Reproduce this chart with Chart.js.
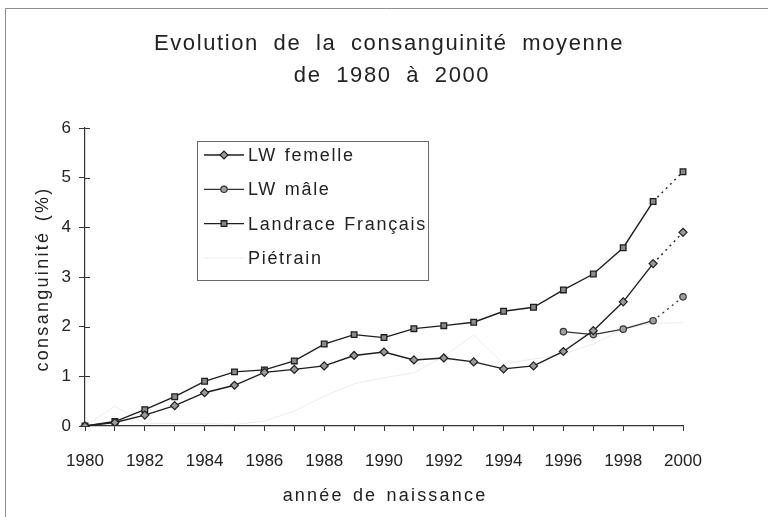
<!DOCTYPE html>
<html>
<head>
<meta charset="utf-8">
<script src="https://cdn.jsdelivr.net/npm/chart.js@4/dist/chart.umd.min.js"></script>
<style>
  html, body { margin: 0; padding: 0; background: #fff; }
  #wrap { width: 768px; height: 517px; position: relative; }
</style>
</head>
<body>
<div id="wrap"><canvas id="c" width="768" height="517"></canvas></div>
<script>
// Birth years
const years = ['1980','1981','1982','1983','1984','1985','1986','1987','1988','1989','1990',
               '1991','1992','1993','1994','1995','1996','1997','1998','1999','2000'];

// Mean inbreeding (%) per breed
const lwFemelle = [0, 0.07, 0.22, 0.41, 0.67, 0.82, 1.08, 1.14, 1.21, 1.42, 1.49,
                   1.33, 1.37, 1.29, 1.15, 1.21, 1.50, 1.92, 2.50, 3.27, 3.90];
const lwMale = [null, null, null, null, null, null, null, null, null, null, null,
                null, null, null, null, null, 1.90, 1.84, 1.95, 2.12, 2.60];
const landrace = [0, 0.09, 0.33, 0.59, 0.90, 1.09, 1.13, 1.31, 1.65, 1.84, 1.78,
                  1.96, 2.02, 2.09, 2.31, 2.39, 2.74, 3.06, 3.59, 4.52, 5.12];
const pietrain = [0, 0.40, 0.05, 0.05, 0.05, 0.03, 0.10, 0.30, 0.60, 0.85, 0.97,
                  1.07, 1.40, 1.83, 1.25, 1.35, 1.45, 1.65, 1.95, 2.07, 2.08];

const yTicks = [0, 1, 2, 3, 4, 5, 6];

const titleLines = ['Evolution de la consanguinité moyenne', 'de 1980 à 2000'];
const xTitle = 'année de naissance';
const yTitle = 'consanguinité (%)';

const FONT = 'Liberation Sans, Arial, sans-serif';
const INK = '#1e1e1e';

// last interval (1999 -> 2000) is drawn dotted
const dottedLast = {
  borderDash: ctx => ctx.p1DataIndex === years.length - 1 ? [2, 4] : undefined
};

const datasets = [
  { label: 'LW femelle', data: lwFemelle, borderColor: INK, borderWidth: 1.4,
    pointStyle: 'rectRot', pointRadius: 4, pointBackgroundColor: '#9a9a9a',
    pointBorderColor: INK, pointBorderWidth: 1.2, segment: dottedLast, spanGaps: false },
  { label: 'LW mâle', data: lwMale, borderColor: '#333', borderWidth: 1.3,
    pointStyle: 'circle', pointRadius: 3.2, pointBackgroundColor: '#a0a0a0',
    pointBorderColor: '#333', pointBorderWidth: 1.2, segment: dottedLast, spanGaps: false },
  { label: 'Landrace Français', data: landrace, borderColor: INK, borderWidth: 1.4,
    pointStyle: 'rect', pointRadius: 4, pointBackgroundColor: '#8a8a8a',
    pointBorderColor: INK, pointBorderWidth: 1.3, segment: dottedLast },
  { label: 'Piétrain', data: pietrain, borderColor: '#ebebeb', borderWidth: 1,
    pointRadius: 0, pointStyle: 'circle', pointBackgroundColor: '#ebebeb',
    pointBorderColor: '#ebebeb' }
];

function spacedText(c, text, x, y, font, letter, word) {
  c.font = font;
  c.letterSpacing = letter + 'px';
  c.wordSpacing = word + 'px';
  c.fillText(text, x, y);
  c.letterSpacing = '0px';
  c.wordSpacing = '0px';
}

// outer frame of the figure
const framePlugin = {
  id: 'frame',
  beforeDraw(chart) {
    const c = chart.ctx;
    c.save();
    c.fillStyle = '#fff';
    c.fillRect(0, 0, chart.width, chart.height);
    c.strokeStyle = '#8c8c8c';
    c.lineWidth = 1;
    c.beginPath();
    c.moveTo(5.5, chart.height);
    c.lineTo(5.5, 8.5);
    c.lineTo(chart.width, 8.5);
    c.stroke();
    c.restore();
  }
};

// title and axis titles, letter-spaced
const textsPlugin = {
  id: 'texts',
  afterDraw(chart) {
    const c = chart.ctx;
    const a = chart.chartArea;
    c.save();
    c.fillStyle = '#222';
    c.textAlign = 'center';
    c.textBaseline = 'middle';
    spacedText(c, titleLines[0], 389, 44, '22px ' + FONT, 1.6, 7);
    spacedText(c, titleLines[1], 392, 76, '22px ' + FONT, 1.6, 7);
    spacedText(c, xTitle, (a.left + a.right) / 2 + 1, 496, '18px ' + FONT, 2.2, 2);
    c.translate(43, (a.top + a.bottom) / 2 + 2);
    c.rotate(-Math.PI / 2);
    spacedText(c, yTitle, 0, 0, '18px ' + FONT, 2.3, 2);
    c.restore();
  }
};

// ticks crossing the y axis
const crossTicks = {
  id: 'crossTicks',
  afterDraw(chart) {
    const y = chart.scales.y, x = chart.scales.x;
    const c = chart.ctx;
    c.save();
    c.strokeStyle = '#333';
    c.lineWidth = 1;
    y.ticks.forEach(t => {
      const py = Math.round(y.getPixelForValue(t.value)) + 0.5;
      c.beginPath();
      c.moveTo(x.left, py);
      c.lineTo(x.left + 5, py);
      c.stroke();
    });
    c.restore();
  }
};

// boxed legend inside the plot
const boxLegend = {
  id: 'boxLegend',
  afterDraw(chart) {
    const c = chart.ctx;
    const bx = 197.5, by = 141.5, bw = 231, bh = 139;
    c.save();
    c.strokeStyle = '#6a6a6a';
    c.lineWidth = 1;
    c.strokeRect(bx, by, bw, bh);
    c.textBaseline = 'middle';
    c.textAlign = 'left';
    chart.data.datasets.forEach((ds, i) => {
      const ly = 155 + i * 34.3;
      c.strokeStyle = ds.borderColor;
      c.lineWidth = ds.borderWidth;
      c.beginPath();
      c.moveTo(204, ly);
      c.lineTo(244, ly);
      c.stroke();
      if (ds.pointRadius > 0) {
        c.fillStyle = ds.pointBackgroundColor;
        c.strokeStyle = ds.pointBorderColor;
        c.lineWidth = ds.pointBorderWidth;
        Chart.helpers.drawPoint(c, {
          pointStyle: ds.pointStyle, radius: ds.pointRadius,
          borderWidth: ds.pointBorderWidth, rotation: 0
        }, 224, ly);
      }
      c.fillStyle = '#222';
      spacedText(c, ds.label, 248, ly + 1, '18px ' + FONT, 1.7, 1);
    });
    c.restore();
  }
};

new Chart(document.getElementById('c'), {
  type: 'line',
  data: { labels: years, datasets },
  plugins: [framePlugin, crossTicks, boxLegend, textsPlugin],
  options: {
    responsive: false,
    animation: false,
    layout: { padding: { left: 5, right: 85, top: 128, bottom: 0 } },
    elements: { line: { tension: 0 } },
    plugins: {
      legend: { display: false },
      tooltip: { enabled: false },
      title: { display: false }
    },
    scales: {
      x: {
        type: 'category',
        offset: false,
        grid: { drawOnChartArea: false, drawTicks: true, tickLength: 5, color: '#333' },
        border: { color: '#333', width: 1.2 },
        ticks: {
          autoSkip: false, maxRotation: 0, padding: 20,
          color: '#222', font: { family: FONT, size: 17 },
          callback: (v, i) => (i % 2 === 0 ? years[i] : '')
        },
        afterFit: s => { s.height = 91; }
      },
      y: {
        min: 0, max: 6,
        afterBuildTicks: s => { s.ticks = yTicks.map(v => ({ value: v })); },
        grid: { drawOnChartArea: false, tickLength: 6, color: '#333' },
        border: { color: '#333', width: 1.2 },
        ticks: { padding: 8, color: '#222', font: { family: FONT, size: 17 } },
        afterFit: s => { s.width = 80; }
      }
    }
  }
});
</script>
</body>
</html>
